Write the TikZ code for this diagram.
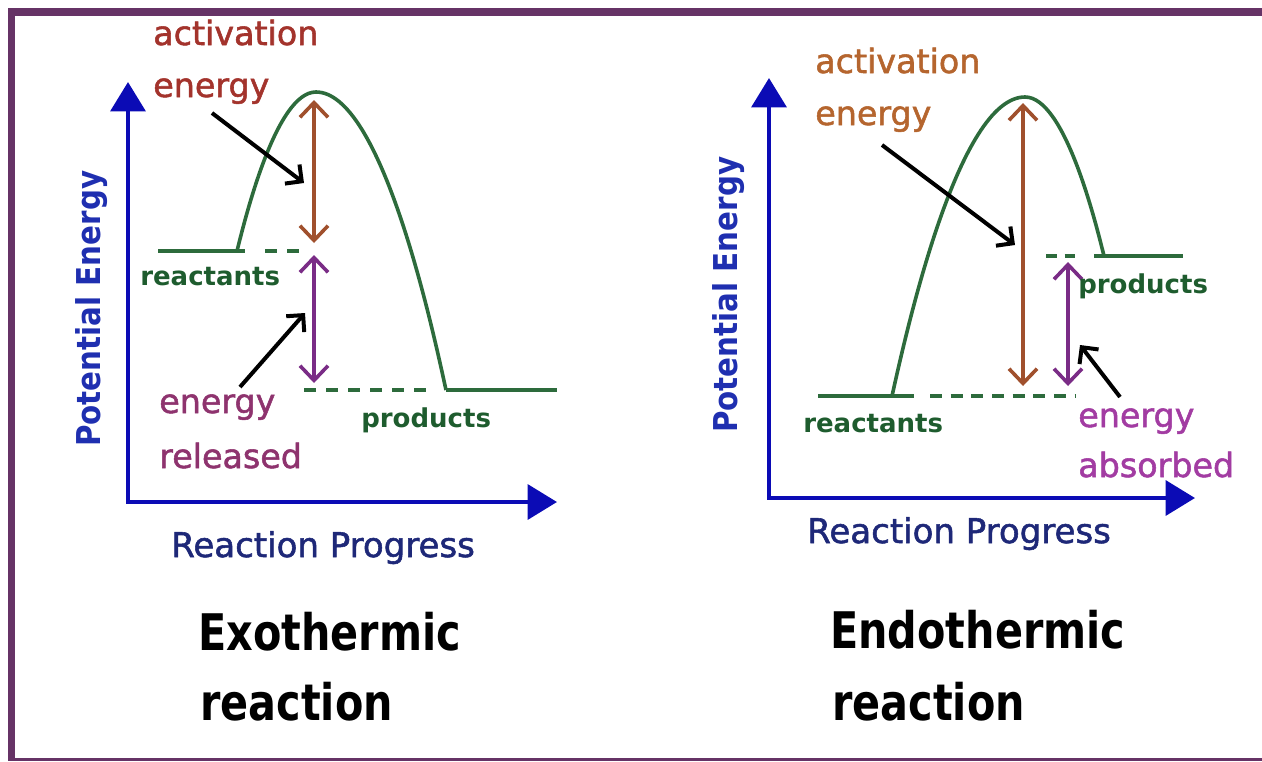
\documentclass[tikz,border=0pt]{standalone}
\usepackage{fontspec}
\setmainfont{DejaVu Sans}
\newfontfamily\medfont{DejaVu Sans}[FakeBold=1.6]
\usetikzlibrary{arrows.meta}
\definecolor{framecol}{HTML}{663366}
\definecolor{axiscol}{HTML}{0B0BB5}
\definecolor{pecol}{HTML}{1F2FB0}
\definecolor{rpcol}{HTML}{1E2878}
\definecolor{curvecol}{HTML}{2D6B3C}
\definecolor{labgreen}{HTML}{1E5C2E}
\definecolor{actL}{HTML}{A3332C}
\definecolor{actR}{HTML}{B5652E}
\definecolor{brownarr}{HTML}{A0502D}
\definecolor{purplearr}{HTML}{7A2C86}
\definecolor{relcol}{HTML}{8E336E}
\definecolor{abscol}{HTML}{A23CA2}
\tikzset{
  lab/.style={inner sep=0pt, anchor=base west},
  midlab/.style={lab, font=\fontsize{25pt}{30pt}\medfont},
  smlab/.style={lab, font=\fontsize{19.5pt}{23pt}\selectfont\bfseries, text=labgreen},
  pelab/.style={lab, rotate=90, font=\fontsize{22pt}{26pt}\selectfont\bfseries, text=pecol},
  rplab/.style={lab, font=\fontsize{25.5pt}{30pt}\medfont, text=rpcol},
  titlelab/.style={lab, font=\fontsize{31pt}{36pt}\selectfont\bfseries, text=black},
  axis/.style={draw=axiscol, line width=3.3pt, line join=miter, {Triangle[length=22pt,width=26pt]}-{Triangle[length=22pt,width=26pt]}},
  curve/.style={draw=curvecol, line width=2.7pt},
  dashline/.style={draw=curvecol, line width=3pt, dash pattern=on 9pt off 7.5pt},
  actarrow/.style={draw=brownarr, line width=2.7pt, {Straight Barb[length=11pt,width=21pt]}-{Straight Barb[length=11pt,width=21pt]}},
  enarrow/.style={draw=purplearr, line width=2.7pt, {Straight Barb[length=11pt,width=21pt]}-{Straight Barb[length=11pt,width=21pt]}},
  pointer/.style={draw=black, line width=3pt, -{Straight Barb[length=9pt,width=18pt]}}
}
\begin{document}
\begin{tikzpicture}[x=0.75pt,y=-0.75pt]
\useasboundingbox (0,0) rectangle (1262,761);
% frame
\fill[framecol] (8,8) rectangle (1262,16);
\fill[framecol] (8,8) rectangle (15,761);
\fill[framecol] (8,758) rectangle (1262,761);

% ===== Left: exothermic =====
\coordinate (LO) at (128,502);
\coordinate (LYt) at (128,82);
\coordinate (LXt) at (557,502);
\draw[axis] (LYt) -- (LO) -- (LXt);

\coordinate (LRa) at (158,251);
\coordinate (LRb) at (245,251);
\coordinate (LRf) at (237,251);
\coordinate (LPk) at (316,92);
\coordinate (LPf) at (446,390);
\coordinate (LPe) at (557,390);
\draw[curve] (LRa) -- (LRb);
\draw[curve] (LRf) parabola bend (LPk) (LPf);
\draw[curve] (LPf) -- (LPe);
\coordinate (LD1a) at (265,251);
\coordinate (LD1b) at (304,251);
\draw[dashline] (LD1a) -- (LD1b);
\coordinate (LD2a) at (304,390);
\coordinate (LD2b) at (434,390);
\draw[dashline] (LD2a) -- (LD2b);

\coordinate (LAt) at (314,100);
\coordinate (LAb) at (314,243);
\draw[actarrow] (LAt) -- (LAb);
\coordinate (LEt) at (314,255);
\coordinate (LEb) at (314,383);
\draw[enarrow] (LEt) -- (LEb);

\node[midlab, text=actL] (Lact) at (153,45) {activation};
\node[midlab, text=actL] (Lacten) at (153,97) {energy};
\node[smlab] (Lreac) at (140,285) {reactants};
\node[smlab] (Lprod) at (361,427) {products};
\node[midlab, text=relcol] (Lrelen) at (159,413) {energy};
\node[midlab, text=relcol] (Lrel) at (159,468) {released};
\node[pelab] (LPE) at (100,447) {\scalebox{1}[1.12]{Potential Energy}};
\node[rplab] (LRP) at (171,557) {Reaction Progress};
\node[titlelab] (Lt1) at (198,650) {\scalebox{1}[1.22]{Exothermic}};
\node[titlelab] (Lt2) at (200,720) {\scalebox{1}[1.22]{reaction}};

\coordinate (LP1s) at (212,113);
\coordinate (LP1e) at (304,183);
\draw[pointer] (LP1s) -- (LP1e);
\coordinate (LP2s) at (240,387);
\coordinate (LP2e) at (305,313);
\draw[pointer] (LP2s) -- (LP2e);

% ===== Right: endothermic =====
\coordinate (RO) at (769,498);
\coordinate (RYt) at (769,78);
\coordinate (RXt) at (1195,498);
\draw[axis] (RYt) -- (RO) -- (RXt);

\coordinate (RRa) at (818,396);
\coordinate (RRb) at (914,396);
\coordinate (RRf) at (892,396);
\coordinate (RPk) at (1025,97);
\coordinate (RPf) at (1104,256);
\coordinate (RPe) at (1183,256);
\coordinate (RPs) at (1094,256);
\draw[curve] (RRa) -- (RRb);
\draw[curve] (RRf) parabola bend (RPk) (RPf);
\draw[curve] (RPs) -- (RPe);
\coordinate (RD1a) at (930,396);
\coordinate (RD1b) at (1076,396);
\draw[dashline, dash pattern=on 9pt off 6.5pt] (RD1a) -- (RD1b);
\coordinate (RD2a) at (1046,256);
\coordinate (RD2b) at (1082,256);
\draw[dashline, dash pattern=on 8pt off 6pt] (RD2a) -- (RD2b);

\coordinate (RAt) at (1023,103);
\coordinate (RAb) at (1023,386);
\draw[actarrow] (RAt) -- (RAb);
\coordinate (REt) at (1068,262);
\coordinate (REb) at (1068,386);
\draw[enarrow] (REt) -- (REb);

\node[midlab, text=actR] (Ract) at (815,73) {activation};
\node[midlab, text=actR] (Racten) at (815,125) {energy};
\node[smlab] (Rprod) at (1078,293) {products};
\node[smlab] (Rreac) at (803,432) {reactants};
\node[midlab, text=abscol] (Rabsen) at (1078,427) {energy};
\node[midlab, text=abscol] (Rabs) at (1078,477) {absorbed};
\node[pelab] (RPE) at (737,433) {\scalebox{1}[1.12]{Potential Energy}};
\node[rplab] (RRP) at (807,543) {Reaction Progress};
\node[titlelab] (Rt1) at (830,648) {\scalebox{1}[1.22]{Endothermic}};
\node[titlelab] (Rt2) at (832,720) {\scalebox{1}[1.22]{reaction}};

\coordinate (RP1s) at (882,145);
\coordinate (RP1e) at (1015,245);
\draw[pointer] (RP1s) -- (RP1e);
\coordinate (RP2s) at (1120,397);
\coordinate (RP2e) at (1080,345);
\draw[pointer] (RP2s) -- (RP2e);
\end{tikzpicture}
\end{document}
